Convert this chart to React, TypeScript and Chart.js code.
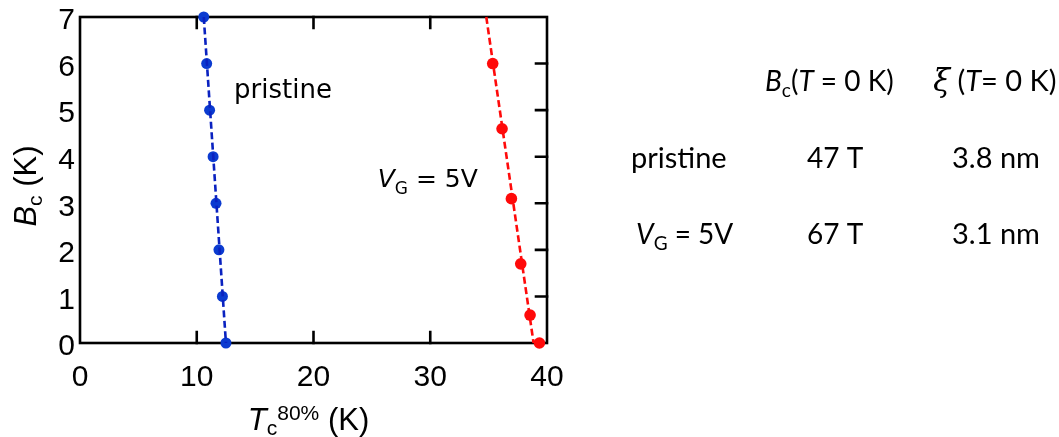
import React, { useEffect, useRef } from "react";
import { Chart, registerables } from "chart.js";

Chart.register(...registerables);

// Critical field levels (K) and the corresponding Tc^80% (K) for each sample
const pristineBc = [7, 6, 5, 4, 3, 2, 1, 0];
const pristineTc = [10.6, 10.85, 11.1, 11.4, 11.65, 11.9, 12.2, 12.5];
const gatedBc = [6, 4.6, 3.1, 1.7, 0.6, 0];
const gatedTc = [35.35, 36.15, 36.95, 37.75, 38.55, 39.35];

// Linear guide lines through each data set (endpoints at Bc = 7 and Bc = 0)
const fitBc = [7, 0];
const pristineFitTc = [10.6, 12.5];
const gatedFitTc = [34.8, 38.85];

// Axis ranges and ticks
const xTicks = [0, 10, 20, 30, 40];
const yTicks = [0, 1, 2, 3, 4, 5, 6, 7];

// Zero-temperature summary table
const sampleNames = ["pristine", "V_G = 5V"];
const bcZero = ["47 T", "67 T"];
const xiZero = ["3.8 nm", "3.1 nm"];

const BLUE = "#0b3bd0";
const BLUE_LINE = "#0a22c0";
const RED = "#ff0a0a";
const SANS = '"Liberation Sans", Arial, sans-serif';
const DEJA = '"DejaVu Sans", sans-serif';
const TABLE = 'Lato, "Open Sans", sans-serif';

type Seg = { text: string; size: number; italic?: boolean; dy?: number; family?: string };

function drawRich(ctx: CanvasRenderingContext2D, x: number, y: number, segs: Seg[], family: string) {
  let cx = x;
  for (const s of segs) {
    ctx.font = `${s.italic ? "italic " : ""}${s.size}px ${s.family || family}`;
    ctx.fillText(s.text, cx, y + (s.dy || 0));
    cx += ctx.measureText(s.text).width;
  }
  return cx - x;
}

function richWidth(ctx: CanvasRenderingContext2D, segs: Seg[], family: string) {
  let w = 0;
  for (const s of segs) {
    ctx.font = `${s.italic ? "italic " : ""}${s.size}px ${s.family || family}`;
    w += ctx.measureText(s.text).width;
  }
  return w;
}

function toPoints(xs: number[], ys: number[]) {
  return xs.map((x, i) => ({ x, y: ys[i] }));
}

const framePlugin = {
  id: "frameTicks",
  beforeDatasetsDraw(chart: any) {
    const { ctx, chartArea: a, scales } = chart;
    const xs = scales.x;
    const ys = scales.y;
    const len = 11;
    ctx.save();
    ctx.strokeStyle = "#000";
    ctx.lineWidth = 2.6;
    ctx.lineCap = "square";
    ctx.strokeRect(a.left, a.top, a.right - a.left, a.bottom - a.top);
    ctx.beginPath();
    for (const v of xTicks.slice(1, -1)) {
      const px = xs.getPixelForValue(v);
      ctx.moveTo(px, a.bottom);
      ctx.lineTo(px, a.bottom - len);
      ctx.moveTo(px, a.top);
      ctx.lineTo(px, a.top + len);
    }
    for (const v of yTicks.slice(1, -1)) {
      const py = ys.getPixelForValue(v);
      ctx.moveTo(a.right, py);
      ctx.lineTo(a.right - len, py);
    }
    ctx.stroke();
    ctx.restore();
  },
  afterDraw(chart: any) {
    const { ctx, scales } = chart;
    const xs = scales.x;
    const ys = scales.y;
    ctx.save();
    ctx.fillStyle = "#000";
    ctx.textBaseline = "alphabetic";
    ctx.textAlign = "left";

    // x axis title: Tc^80% (K)
    const xTitle: Seg[] = [
      { text: "T", size: 31, italic: true },
      { text: "c", size: 21, dy: 5 },
      { text: "80%", size: 21, dy: -10 },
      { text: " (K)", size: 31 },
    ];
    const xw = richWidth(ctx, xTitle, SANS);
    const xc = (xs.left + xs.right) / 2;
    drawRich(ctx, xc - xw / 2 - 5, 430, xTitle, SANS);

    // y axis title: Bc (K)
    const yTitle: Seg[] = [
      { text: "B", size: 31, italic: true },
      { text: "c", size: 21, dy: 6 },
      { text: " (K)", size: 31 },
    ];
    const yw = richWidth(ctx, yTitle, SANS);
    ctx.save();
    ctx.translate(36, 186);
    ctx.rotate(-Math.PI / 2);
    drawRich(ctx, -yw / 2, 0, yTitle, SANS);
    ctx.restore();

    // in-plot sample labels
    ctx.font = `26px ${DEJA}`;
    ctx.fillText("pristine", xs.getPixelForValue(13.2), ys.getPixelForValue(5.3) + 2);
    drawRich(
      ctx,
      xs.getPixelForValue(25.5),
      ys.getPixelForValue(3.36),
      [
        { text: "V", size: 25, italic: true },
        { text: "G", size: 17, dy: 7 },
        { text: " = 5V", size: 25 },
      ],
      DEJA
    );

    // summary table
    drawRich(
      ctx,
      765,
      91,
      [
        { text: "B", size: 28, italic: true },
        { text: "c", size: 19, dy: 6 },
        { text: "(", size: 28 },
        { text: "T", size: 28, italic: true },
        { text: " = 0 K)", size: 28 },
      ],
      TABLE
    );
    drawRich(
      ctx,
      933,
      91,
      [
        { text: "ξ", size: 31, italic: true, family: '"DejaVu Serif", serif' },
        { text: " (", size: 29 },
        { text: "T", size: 29, italic: true },
        { text: "= 0 K)", size: 29 },
      ],
      TABLE
    );
    const rowBase = [168, 244];
    sampleNames.forEach((name, i) => {
      const y = rowBase[i];
      if (name.startsWith("V_G")) {
        drawRich(
          ctx,
          636,
          y,
          [
            { text: "V", size: 28, italic: true },
            { text: "G", size: 19, dy: 6 },
            { text: name.slice(3), size: 28 },
          ],
          TABLE
        );
      } else {
        ctx.font = `29px ${TABLE}`;
        ctx.fillText(name, 631, y);
      }
      ctx.font = `28px ${TABLE}`;
      ctx.fillText(bcZero[i], 807, y);
      ctx.font = `29px ${TABLE}`;
      ctx.fillText(xiZero[i], 952, y);
    });
    ctx.restore();
  },
};

export default function App() {
  const canvasRef = useRef<HTMLCanvasElement | null>(null);

  useEffect(() => {
    const canvas = canvasRef.current;
    if (!canvas) return;
    const chart = new Chart(canvas, {
      type: "scatter",
      data: {
        datasets: [
          {
            data: toPoints(pristineFitTc, fitBc),
            showLine: true,
            borderColor: BLUE_LINE,
            borderWidth: 2.6,
            borderDash: [7, 3.5],
            pointRadius: 0,
            clip: false,
          },
          {
            data: toPoints(gatedFitTc, fitBc),
            showLine: true,
            borderColor: RED,
            borderWidth: 2.6,
            borderDash: [7, 3.5],
            pointRadius: 0,
            clip: false,
          },
          {
            data: toPoints(pristineTc, pristineBc),
            showLine: false,
            pointRadius: 5.5,
            pointBackgroundColor: BLUE,
            pointBorderWidth: 0,
            clip: false,
          },
          {
            data: toPoints(gatedTc, gatedBc),
            showLine: false,
            pointRadius: 5.8,
            pointBackgroundColor: RED,
            pointBorderWidth: 0,
            clip: false,
          },
        ] as any,
      },
      options: {
        responsive: false,
        animation: false,
        devicePixelRatio: 1,
        layout: { padding: { top: 15, right: 512, left: 0, bottom: 0 } },
        plugins: { legend: { display: false }, tooltip: { enabled: false } },
        events: [],
        scales: {
          x: {
            type: "linear",
            min: 0,
            max: 40,
            afterBuildTicks: (s: any) => {
              s.ticks = xTicks.map((v) => ({ value: v }));
            },
            afterFit: (s: any) => {
              s.height = 94;
            },
            grid: { display: false, drawTicks: false },
            border: { display: false },
            ticks: {
              padding: 20,
              color: "#000",
              font: { family: SANS, size: 30, lineHeight: 1 },
              maxRotation: 0,
            },
          },
          y: {
            type: "linear",
            min: 0,
            max: 7,
            afterBuildTicks: (s: any) => {
              s.ticks = yTicks.map((v) => ({ value: v }));
            },
            afterFit: (s: any) => {
              s.width = 80;
            },
            grid: { display: false, drawTicks: false },
            border: { display: false },
            ticks: {
              padding: 5,
              labelOffset: 4,
              color: "#000",
              font: { family: SANS, size: 30, lineHeight: 0.8 },
            },
          },
        },
      } as any,
      plugins: [framePlugin],
    });
    return () => chart.destroy();
  }, []);

  return (
    <div style={{ position: "absolute", left: 0, top: 0, width: 1059, height: 437, background: "#fff" }}>
      <canvas ref={canvasRef} width={1059} height={437} style={{ width: 1059, height: 437, display: "block" }} />
    </div>
  );
}
